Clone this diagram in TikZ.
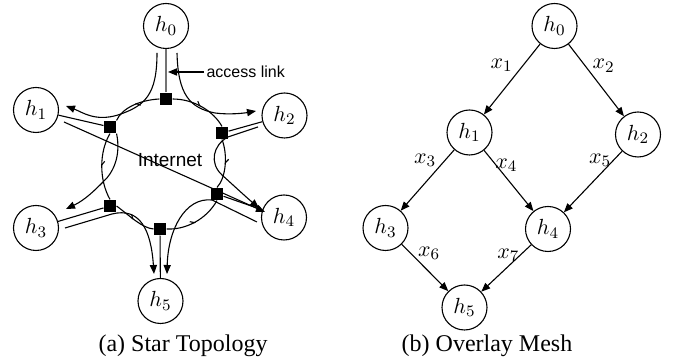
\documentclass[tikz,border=0pt]{standalone}
\usepackage{fontspec}
\newfontfamily\capfont{Liberation Serif}
\newfontfamily\labfont{Liberation Sans}
\usetikzlibrary{arrows.meta,decorations.markings}
\newcommand\mathfs{\fontsize{10.95}{13}\selectfont}
\newcommand\capfs{\capfont\fontsize{12}{14}\selectfont}
\newcommand\inetfs{\labfont\fontsize{9.5}{11}\selectfont}
\newcommand\accfs{\labfont\fontsize{8}{10}\selectfont}
\begin{document}
\begin{tikzpicture}[x=0.5pt,y=-0.5pt,line width=0.55pt,
  host/.style={circle,draw,minimum size=22.5pt,inner sep=0pt,font=\mathfs},
  router/.style={rectangle,fill=black,minimum size=6pt,inner sep=0pt},
  arr/.style={-{Triangle[length=4.5pt,width=3.6pt]}},
  ringarc/.style={postaction={decorate,decoration={markings,
      mark=at position 0.5 with {\arrow{Straight Barb[left,length=1.8pt,width=3pt]}}}}},
  elab/.style={font=\mathfs,inner sep=3.5pt},
  accline/.style={draw=black!55,line width=0.7pt}]
\useasboundingbox (0,0) rectangle (675,362);
% ---------- (a) star topology ----------
\node[host] (L0) at (166,26) {$h_0$};
\node[host] (L1) at (36,110) {$h_1$};
\node[host] (L2) at (284.5,115.5) {$h_2$};
\node[host] (L3) at (36,228) {$h_3$};
\node[host] (L4) at (284,217.5) {$h_4$};
\node[host] (L5) at (160.5,301) {$h_5$};
\node[router] (S0) at (166,99) {};
\node[router] (S1) at (110,127) {};
\node[router] (S2) at (222,133) {};
\node[router] (S3) at (110,206) {};
\node[router] (S4) at (217,194) {};
\node[router] (S5) at (160,229) {};
\node[font=\inetfs,anchor=base] (inet) at (170,167) {Internet};
\node[font=\accfs,anchor=west,inner sep=1pt] (acc) at (204,72) {access link};
\coordinate (alink) at (168,72);
% access links
\draw[accline] (S0) -- (L0);
\draw (S1) -- (L1);
\draw (S2) -- (L2);
\draw (S3) -- (L3);
\draw (S4) -- (L4);
\draw (S5) -- (L5);
\draw[arr] (acc.west) -- (alink);
% internet ring arcs
\draw[ringarc] (S0.west) .. controls (140,100) and (122,108) .. (S1.north east);
\draw[ringarc] (S0.east) .. controls (195,99) and (214,112) .. (S2.north);
\draw[ringarc] (S1.south) .. controls (99,152) and (99,180) .. (S3.north);
\draw[ringarc] (S2.south) .. controls (228,155) and (226,178) .. (S4.north);
\draw[ringarc] (S3.east) .. controls (130,216) and (142,228) .. (S5.west);
\draw[ringarc] (S5.east) .. controls (185,230) and (206,220) .. (S4.south);
% flows
\coordinate (f01s) at (157,53);  \coordinate (f01t) at (66,106);
\coordinate (f02s) at (177,53);  \coordinate (f02t) at (256,111);
\coordinate (f13t) at (66,209);
\coordinate (f14s) at (64,122);  \coordinate (f14t) at (265,212);
\coordinate (f24s) at (258,127); \coordinate (f24t) at (259,208);
\coordinate (f35s) at (65,228);  \coordinate (f35t) at (154,274);
\coordinate (f45s) at (257,222); \coordinate (f45t) at (167,274);
\draw[arr] (f01s) .. controls (157,95) and (145,106) .. (118,115)
  .. controls (95,122) and (82,112) .. (f01t);
\draw[arr] (f02s) .. controls (178,95) and (190,108) .. (215,113)
  .. controls (230,115) and (245,113) .. (f02t);
\draw[arr] (S1.south east) .. controls (121,155) and (114,172) .. (103,182)
  .. controls (95,190) and (85,200) .. (f13t);
\draw[arr] (f14s) -- (f14t);
\draw[arr] (f24s) -- (228,137) .. controls (213,145) and (209,163) .. (222,175)
  .. controls (232,184) and (246,197) .. (f24t);
\draw[arr] (f35s) -- (112,214) .. controls (140,207) and (151,230) .. (f35t);
\draw[arr] (f45s) -- (212,200) .. controls (185,197) and (168,230) .. (f45t);
\node[font=\capfs,anchor=base] (capa) at (183,352) {(a) Star Topology};
% ---------- (b) overlay mesh ----------
\node[host] (R0) at (554.5,26) {$h_0$};
\node[host] (R1) at (469.5,132.5) {$h_1$};
\node[host] (R2) at (638,134.5) {$h_2$};
\node[host] (R3) at (385.5,228) {$h_3$};
\node[host] (R4) at (548,229) {$h_4$};
\node[host] (R5) at (464.5,307.5) {$h_5$};
\draw[arr] (R0) -- node[elab,pos=0.3,left=1.5pt] {$x_1$} (R1);
\draw[arr] (R0) -- node[elab,pos=0.3,right=0pt] {$x_2$} (R2);
\draw[arr] (R1) -- node[elab,pos=0.17,left=0.7pt] {$x_3$} (R3);
\draw[arr] (R1) -- node[elab,pos=0.24,right=-4pt] {$x_4$} (R4);
\draw[arr] (R2) -- node[elab,pos=0.15,left=-2.6pt] {$x_5$} (R4);
\draw[arr] (R3) -- node[elab,pos=0.19,right=0pt] {$x_6$} (R5);
\draw[arr] (R4) -- node[elab,pos=0.22,left=-3.3pt] {$x_7$} (R5);
\node[font=\capfs,anchor=base] (capb) at (487,352) {(b) Overlay Mesh};
\end{tikzpicture}
\end{document}
